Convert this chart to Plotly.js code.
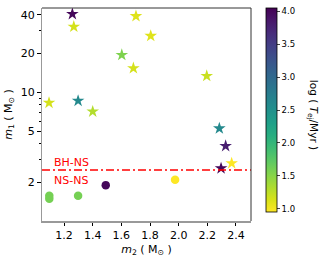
<!DOCTYPE html>
<html><head><meta charset="utf-8">
<script src="https://cdn.plot.ly/plotly-3.0.1.min.js"></script>
<style>body{margin:0;background:#fff}#c{width:319px;height:260px}</style>
</head><body><div id="c"></div>
<script>
// Stars (BH-NS / other systems)
const starM2 = [1.258, 1.268, 1.702, 1.805, 1.603, 1.684, 1.095, 1.298, 1.40, 2.196, 2.284, 2.328, 2.370, 2.296];
const starM1 = [40.5, 32.3, 39.0, 27.4, 19.5, 15.4, 8.3, 8.6, 7.1, 13.4, 5.26, 3.84, 2.82, 2.58];
const starLogT = [4.0, 1.15, 1.1, 1.1, 1.55, 1.15, 1.15, 2.6, 1.3, 1.2, 2.6, 3.8, 0.95, 4.0];
// Circles (NS-NS)
const circM2 = [1.975, 1.491, 1.298, 1.097, 1.097];
const circM1 = [2.10, 1.91, 1.58, 1.58, 1.50];
const circLogT = [0.95, 4.0, 1.6, 1.6, 1.6];
const boundaryM1 = 2.5;
const yTicks = [2, 5, 10, 20, 40];
const yMinor = [3, 4, 6, 7, 8, 9, 30];
const xTicks = [1.2, 1.4, 1.6, 1.8, 2.0, 2.2, 2.4];
const cbTicks = [1.0, 1.5, 2.0, 2.5, 3.0, 3.5, 4.0];

const F = 'DejaVu Sans, sans-serif';
const traces = [
  {x: starM2, y: starM1, type: 'scatter', mode: 'markers', showlegend: false,
   marker: {symbol: 'star', size: 9.5, color: starLogT, coloraxis: 'coloraxis', line: {width: 0}}},
  {x: circM2, y: circM1, type: 'scatter', mode: 'markers', showlegend: false,
   marker: {symbol: 'circle', size: 8.5, color: circLogT, coloraxis: 'coloraxis', line: {width: 0}}}
];
const layout = {
  width: 319, height: 260,
  margin: {l: 42, r: 68, t: 8, b: 39},
  paper_bgcolor: '#fff', plot_bgcolor: '#fff',
  font: {family: F, size: 11, color: '#000'},
  xaxis: {range: [1.046, 2.505], tickvals: xTicks, ticktext: xTicks.map(v => v.toFixed(1)),
    showgrid: false, zeroline: false, showline: true, linecolor: '#999', linewidth: 1.5,
    ticks: 'outside', ticklen: 3.5, tickcolor: '#000', tickfont: {size: 11},
    title: {text: '<i>m</i><sub>2</sub> ( M<sub>⊙</sub> )', font: {size: 11}, standoff: 4}},
  yaxis: {type: 'log', range: [0.003, 1.654], tickvals: yTicks, ticktext: yTicks.map(String),
    showgrid: false, zeroline: false, showline: true, linecolor: '#999', linewidth: 1.5,
    ticks: 'outside', ticklen: 3.5, tickcolor: '#000', tickfont: {size: 11},
    minor: {tickvals: yMinor, ticks: 'outside', ticklen: 2, tickcolor: '#000'},
    title: {text: '<i>m</i><sub>1</sub> ( M<sub>⊙</sub> )', font: {size: 11}, standoff: 6}},
  coloraxis: {cmin: 0.95, cmax: 4.05, colorscale: 'Viridis', reversescale: true,
    colorbar: {x: 1.07, xanchor: 'left', y: 1, yanchor: 'top', lenmode: 'pixels', len: 204,
      thickness: 10.5, xpad: 0, ypad: 0, outlinewidth: 0.8, outlinecolor: '#000',
      tickvals: cbTicks, ticktext: cbTicks.map(v => v.toFixed(1)), ticks: 'outside', ticklen: 3,
      tickfont: {size: 8.5}}},
  shapes: [
    {type: 'line', xref: 'paper', yref: 'y', x0: 0, x1: 1, y0: boundaryM1, y1: boundaryM1,
     line: {color: 'red', width: 1.5, dash: '8px,3px,2px,3px'}},
    {type: 'line', xref: 'paper', yref: 'paper', x0: 0, x1: 1, y0: 1, y1: 1, line: {color: '#333', width: 1}},
    {type: 'line', xref: 'paper', yref: 'paper', x0: 1, x1: 1, y0: 0, y1: 1, line: {color: '#333', width: 1}}
  ],
  annotations: [
    {text: 'BH-NS', xref: 'paper', yref: 'y', x: 0.05, xanchor: 'left', y: 0.46, yanchor: 'middle',
     showarrow: false, font: {color: 'red', size: 11}},
    {text: 'NS-NS', xref: 'paper', yref: 'y', x: 0.05, xanchor: 'left', y: 0.32, yanchor: 'middle',
     showarrow: false, font: {color: 'red', size: 11}},
    {text: 'log ( <i>T</i><sub>ej</sub>/Myr )', xref: 'paper', yref: 'paper', x: 1.3, xanchor: 'center',
     y: 0.5, yanchor: 'middle', textangle: 90, showarrow: false, font: {size: 10.5}}
  ]
};
Plotly.newPlot('c', traces, layout, {staticPlot: true});
</script></body></html>
